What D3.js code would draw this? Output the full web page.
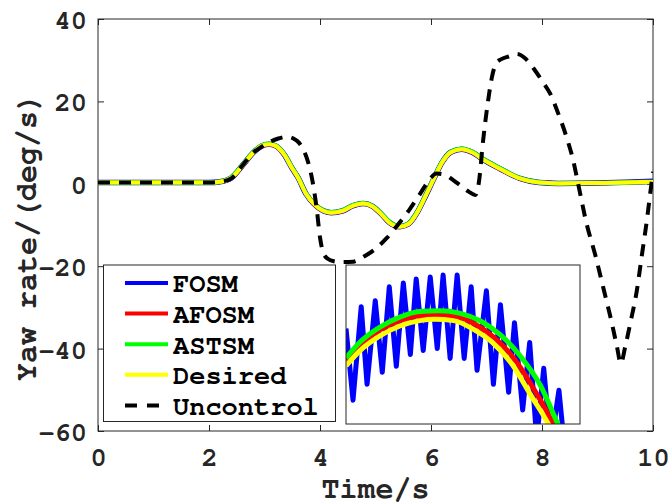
<!DOCTYPE html>
<html>
<head>
<meta charset="utf-8">
<script src="https://cdn.jsdelivr.net/npm/d3@7"></script>
<style>
  body { margin: 0; background: #fff; }
  svg { display: block; }
  .tick text, .lbl { font-family: 'Nimbus Mono PS', 'Nimbus Mono L', 'FreeMono', 'Courier New', 'Liberation Mono', monospace; font-weight: bold; fill: #262626; }
</style>
</head>
<body>
<svg id="chart" width="672" height="504"></svg>
<script>
// data, main plot
let mainT = [0, 1, 2, 2.2, 2.4, 2.6, 2.8, 2.95, 3.08, 3.2, 3.35, 3.5, 3.6, 3.75, 3.9, 4.05, 4.2, 4.4, 4.6, 4.78, 4.95, 5.1, 5.25, 5.44, 5.6, 5.75, 5.9, 6.05, 6.2, 6.35, 6.55, 6.75, 6.95, 7.25, 7.6, 7.95, 8.3, 9.0, 9.5, 10]
let desired = [0.3, 0.3, 0.3, 0.5, 1.4, 4.4, 7.6, 9.2, 9.6, 9.2, 7.2, 3.7, 1.6, -2.5, -5.0, -6.5, -7.0, -6.6, -5.3, -4.8, -5.5, -7.3, -9.4, -10.4, -9.7, -7.0, -3.0, 1.2, 5.2, 7.6, 8.4, 7.6, 5.8, 3.6, 1.3, 0.3, 0.1, 0.2, 0.3, 0.5]
let fosm = [0.3, 0.3, 0.3, 0.5, 1.4, 4.4, 7.6, 9.2, 9.6, 9.2, 7.2, 3.7, 1.6, -2.5, -5.0, -6.5, -7.0, -6.6, -5.3, -4.8, -5.5, -7.3, -9.4, -10.4, -9.7, -7.0, -3.0, 1.2, 5.2, 7.6, 8.4, 7.6, 5.8, 3.6, 1.3, 0.3, 0.1, 0.2, 0.4, 0.6]
let afosm = [0.3, 0.3, 0.3, 0.5, 1.4, 4.4, 7.6, 9.2, 9.6, 9.2, 7.2, 3.8, 1.6, -2.4, -5.0, -6.5, -7.0, -6.6, -5.3, -4.8, -5.5, -7.3, -9.4, -10.4, -9.7, -7.0, -3.0, 1.2, 5.2, 7.6, 8.4, 7.6, 5.8, 3.6, 1.3, 0.3, 0.1, 0.2, 0.3, 0.5]
let astsm = [0.3, 0.3, 0.3, 0.5, 1.5, 4.5, 7.7, 9.3, 9.7, 9.3, 7.3, 3.8, 1.7, -2.4, -4.9, -6.4, -6.9, -6.5, -5.2, -4.7, -5.4, -7.2, -9.3, -10.3, -9.6, -6.9, -2.9, 1.3, 5.3, 7.7, 8.5, 7.7, 5.9, 3.7, 1.4, 0.4, 0.1, 0.2, 0.3, 0.5]
let uncT = [0, 1, 2, 2.2, 2.4, 2.6, 2.8, 2.95, 3.1, 3.25, 3.4, 3.52, 3.62, 3.7, 3.78, 3.86, 3.94, 4.0, 4.06, 4.14, 4.25, 4.4, 4.6, 4.8, 5.0, 5.2, 5.4, 5.6, 5.8, 5.95, 6.1, 6.25, 6.4, 6.55, 6.68, 6.8, 6.86, 6.94, 7.03, 7.1, 7.17, 7.26, 7.4, 7.55, 7.7, 7.85, 8.0, 8.15, 8.3, 8.45, 8.56, 8.65, 8.8, 8.96, 9.1, 9.26, 9.35, 9.42, 9.5, 9.59, 9.71, 9.8, 9.89, 9.95, 10]
let uncontrol = [0.3, 0.3, 0.3, 0.5, 1.3, 4.4, 7.6, 9.0, 10.2, 11.0, 11.4, 11.0, 10.0, 8.3, 5.5, 1.0, -6.0, -13.0, -16.8, -18.2, -18.8, -19.0, -18.9, -17.6, -15.8, -13.2, -10.0, -6.5, -2.5, 0.6, 2.5, 2.2, 0.9, -0.6, -1.9, -2.7, 0.1, 10.6, 20.3, 26.0, 29.2, 30.2, 30.9, 31.5, 30.4, 28.0, 25.0, 21.8, 16.8, 11.0, 5.8, 0.1, -9.5, -17.3, -25.0, -33.9, -39.5, -43.6, -39.5, -33.9, -25.8, -17.3, -8.8, -2.3, 2.9]

// data, zoomed inset
let insetBlueT = [3.000, 3.006, 3.013, 3.018, 3.025, 3.031, 3.037, 3.043, 3.049, 3.055, 3.060, 3.066, 3.072, 3.078, 3.083, 3.089, 3.095, 3.101, 3.107, 3.112, 3.120, 3.126, 3.132, 3.139, 3.144, 3.151, 3.157, 3.163, 3.169, 3.175, 3.182, 3.187]
let insetBlue = [9.48, 9.12, 9.59, 9.20, 9.62, 9.26, 9.69, 9.29, 9.71, 9.35, 9.73, 9.37, 9.74, 9.38, 9.75, 9.33, 9.75, 9.33, 9.69, 9.27, 9.67, 9.20, 9.60, 9.16, 9.51, 9.07, 9.41, 8.92, 9.28, 8.89, 9.17, 8.87]
let insetYellowT = [3.000, 3.012, 3.029, 3.046, 3.063, 3.076, 3.092, 3.109, 3.126, 3.143, 3.157, 3.173, 3.180]
let insetYellow = [9.292, 9.369, 9.443, 9.493, 9.520, 9.527, 9.520, 9.476, 9.406, 9.292, 9.154, 9.000, 8.920]
let insetRedT = [3.000, 3.012, 3.029, 3.046, 3.063, 3.079, 3.093, 3.110, 3.127, 3.144, 3.159, 3.177, 3.183]
let insetRed = [9.322, 9.397, 9.473, 9.520, 9.545, 9.548, 9.543, 9.503, 9.433, 9.327, 9.191, 9.000, 8.920]
let insetGreenT = [3.000, 3.012, 3.029, 3.046, 3.063, 3.080, 3.097, 3.115, 3.132, 3.149, 3.166, 3.181, 3.187]
let insetGreen = [9.332, 9.413, 9.488, 9.538, 9.566, 9.570, 9.558, 9.518, 9.448, 9.342, 9.196, 9.000, 8.920]

let xTicks = [0, 2, 4, 6, 8, 10]
let yTicks = [-60, -40, -20, 0, 20, 40]
let legendNames = ['FOSM', 'AFOSM', 'ASTSM', 'Desired', 'Uncontrol']
let legendColors = ['#0000ff', '#ff0000', '#00ff00', '#ffff00', '#000000']

let svg = d3.select('#chart')
let pLeft = 98, pRight = 653, pTop = 19, pBottom = 431
let xScale = d3.scaleLinear().domain([0, 10]).range([pLeft, pRight])
let yScale = d3.scaleLinear().domain([-60, 40]).range([pBottom, pTop])

// clip
let defs = svg.append('defs')
defs.append('clipPath').attr('id', 'plotClip').append('rect')
    .attr('x', pLeft).attr('y', pTop).attr('width', pRight - pLeft).attr('height', pBottom - pTop)

// axes with inward ticks
let fmt = d => d < 0 ? '-' + Math.abs(d) : String(d)
let gx = svg.append('g').attr('transform', 'translate(0,' + pBottom + ')')
    .call(d3.axisBottom(xScale).tickValues(xTicks).tickFormat(fmt).tickSizeInner(-6).tickSizeOuter(0).tickPadding(16))
let gy = svg.append('g').attr('transform', 'translate(' + pLeft + ',0)')
    .call(d3.axisLeft(yScale).tickValues(yTicks).tickFormat(fmt).tickSizeInner(-6).tickSizeOuter(0).tickPadding(11))
let gt = svg.append('g').attr('transform', 'translate(0,' + pTop + ')')
    .call(d3.axisTop(xScale).tickValues(xTicks).tickFormat('').tickSizeInner(-6).tickSizeOuter(0))
let gr = svg.append('g').attr('transform', 'translate(' + pRight + ',0)')
    .call(d3.axisRight(yScale).tickValues(yTicks).tickFormat('').tickSizeInner(-6).tickSizeOuter(0))
;[gx, gy, gt, gr].forEach(g => {
    g.select('.domain').remove()
    g.selectAll('.tick line').attr('stroke', '#262626')
    g.selectAll('.tick text').attr('font-size', 27)
})
gy.selectAll('.tick text').attr('dy', '0.35em')

// box
svg.append('rect').attr('x', pLeft).attr('y', pTop).attr('width', pRight - pLeft).attr('height', pBottom - pTop)
    .attr('fill', 'none').attr('stroke', '#262626').attr('stroke-width', 1)

// lines
let mainLine = (ts) => d3.line().x((d, i) => xScale(ts[i])).y(d => yScale(d)).curve(d3.curveMonotoneX)
let plot = svg.append('g').attr('clip-path', 'url(#plotClip)')
plot.append('path').datum(fosm).attr('d', mainLine(mainT)).attr('fill', 'none').attr('stroke', '#0000ff').attr('stroke-width', 5.5)
plot.append('path').datum(afosm).attr('d', mainLine(mainT)).attr('fill', 'none').attr('stroke', '#ff0000').attr('stroke-width', 4.5)
plot.append('path').datum(astsm).attr('d', mainLine(mainT)).attr('fill', 'none').attr('stroke', '#00ff00').attr('stroke-width', 4.5)
plot.append('path').datum(desired).attr('d', mainLine(mainT)).attr('fill', 'none').attr('stroke', '#ffff00').attr('stroke-width', 4)
plot.append('path').datum(uncontrol).attr('d', mainLine(uncT)).attr('fill', 'none').attr('stroke', '#000')
    .attr('stroke-width', 4).attr('stroke-dasharray', '12,9')

// axis labels
svg.append('text').attr('class', 'lbl').attr('x', (pLeft + pRight) / 2).attr('y', 498)
    .attr('text-anchor', 'middle').attr('font-size', 30).text('Time/s')
svg.append('text').attr('class', 'lbl').attr('transform', 'translate(36,237) rotate(-90)')
    .attr('text-anchor', 'middle').attr('font-size', 30).text('Yaw rate/(deg/s)')

// legend
let legend = svg.append('g')
legend.append('rect').attr('x', 103.5).attr('y', 265).attr('width', 232).attr('height', 156.5)
    .attr('fill', '#fff').attr('stroke', '#262626').attr('stroke-width', 1)
legendNames.forEach((name, i) => {
    let cy = 283 + i * 30.6
    legend.append('line').attr('x1', 125).attr('x2', 168).attr('y1', cy).attr('y2', cy)
        .attr('stroke', legendColors[i]).attr('stroke-width', 4)
        .attr('stroke-dasharray', name === 'Uncontrol' ? '12,10' : null)
    legend.append('text').attr('class', 'lbl').attr('x', 173).attr('y', cy).attr('dy', '0.35em')
        .attr('font-size', 27).style('fill', '#000').text(name)
})

// inset
let ix = d3.scaleLinear().domain([3.0, 3.2]).range([346, 580])
let iy = d3.scaleLinear().domain([9.0, 9.8]).range([424, 265])
defs.append('clipPath').attr('id', 'insetClip').append('rect')
    .attr('x', 346).attr('y', 265).attr('width', 234).attr('height', 159)
let inset = svg.append('g')
inset.append('rect').attr('x', 346).attr('y', 265).attr('width', 234).attr('height', 159)
    .attr('fill', '#fff').attr('stroke', 'none')
let ig = inset.append('g').attr('clip-path', 'url(#insetClip)')
let insetLine = (ts, curve) => d3.line().x((d, i) => ix(ts[i])).y(d => iy(d)).curve(curve)
ig.append('path').datum(insetBlue).attr('d', insetLine(insetBlueT, d3.curveLinear)).attr('fill', 'none')
    .attr('stroke', '#0000ff').attr('stroke-width', 5).attr('stroke-linejoin', 'round')
ig.append('path').datum(insetRed).attr('d', insetLine(insetRedT, d3.curveMonotoneX)).attr('fill', 'none')
    .attr('stroke', '#ff0000').attr('stroke-width', 5)
ig.append('path').datum(insetGreen).attr('d', insetLine(insetGreenT, d3.curveMonotoneX)).attr('fill', 'none')
    .attr('stroke', '#00ff00').attr('stroke-width', 5)
ig.append('path').datum(insetYellow).attr('d', insetLine(insetYellowT, d3.curveMonotoneX)).attr('fill', 'none')
    .attr('stroke', '#ffff00').attr('stroke-width', 5)
inset.append('rect').attr('x', 346).attr('y', 265).attr('width', 234).attr('height', 159)
    .attr('fill', 'none').attr('stroke', '#262626').attr('stroke-width', 1)
</script>
</body>
</html>
